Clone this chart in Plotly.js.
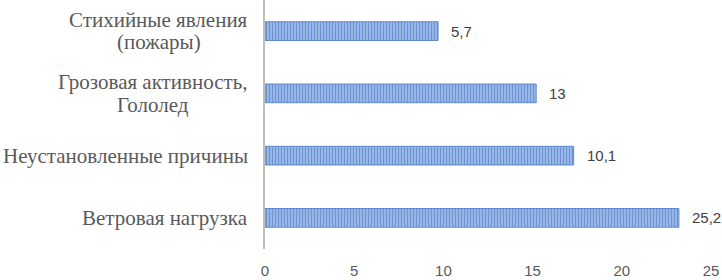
<!DOCTYPE html>
<html>
<head>
<meta charset="utf-8">
<script src="https://cdn.plot.ly/plotly-3.0.1.min.js"></script>
<style>html,body{margin:0;padding:0;background:#fff;}#chart{width:722px;height:280px;}</style>
</head>
<body>
<div id="chart"></div>
<script>
// Categories from bottom to top
const categories = [
  "Ветровая нагрузка",
  "Неустановленные причины",
  "Грозовая активность,<br>Гололед",
  "Стихийные явления<br>(пожары)"
];
// Bar lengths as drawn on the axis
const barValues = [23.2, 17.3, 15.2, 9.7];
// Data labels printed next to bars
const dataLabels = ["25,2", "10,1", "13", "5,7"];
const xTicks = [0, 5, 10, 15, 20, 25];

const LABEL_FONT = "Liberation Serif";
const LABEL_SIZE = 21;
const LINE_H = 22.5;
const RIGHT_GAP = 17;

const cvs = document.createElement("canvas");
const ctx = cvs.getContext("2d");
ctx.font = LABEL_SIZE + "px '" + LABEL_FONT + "'";

const trace = {
  type: "bar",
  orientation: "h",
  y: categories,
  x: barValues,
  width: 0.3,
  marker: {
    color: "#9bb9e8",
    line: { color: "#5b88cc", width: 1 },
    pattern: { shape: "|", fgcolor: "#3f6fbf", size: 3, solidity: 0.4, fillmode: "overlay" }
  },
  hoverinfo: "none"
};

const annotations = [];
categories.forEach((c, i) => {
  const lines = c.split("<br>");
  const widths = lines.map(l => ctx.measureText(l).width);
  const maxW = Math.max.apply(null, widths);
  lines.forEach((l, k) => {
    const yshift = ((lines.length - 1) / 2 - k) * LINE_H;
    annotations.push({
      xref: "paper", yref: "y", x: 0, y: c, text: l,
      xanchor: "center", yanchor: "middle",
      xshift: -RIGHT_GAP - maxW / 2, yshift: yshift,
      showarrow: false,
      font: { family: LABEL_FONT, size: LABEL_SIZE, color: "#595959" }
    });
  });
  annotations.push({
    xref: "x", yref: "y", x: barValues[i], y: c, text: dataLabels[i],
    xanchor: "left", yanchor: "middle", xshift: 11,
    showarrow: false,
    font: { family: "Liberation Sans", size: 15, color: "#404040" }
  });
});

const layout = {
  width: 722, height: 280,
  margin: { l: 265, r: 11, t: 0, b: 31, pad: 0 },
  paper_bgcolor: "#fff", plot_bgcolor: "#fff",
  showlegend: false,
  xaxis: {
    range: [0, 25], tickvals: xTicks, ticktext: xTicks.map(String),
    showgrid: false, zeroline: false, showline: false,
    ticks: "outside", ticklen: 8, tickcolor: "rgba(0,0,0,0)",
    tickfont: { family: "Liberation Sans", size: 15, color: "#595959" },
    fixedrange: true
  },
  yaxis: {
    categoryorder: "array", categoryarray: categories,
    range: [-0.5, 3.5],
    showticklabels: false, showgrid: false, zeroline: false,
    showline: true, linecolor: "#bfbfbf", linewidth: 2,
    fixedrange: true
  },
  annotations: annotations
};

Plotly.newPlot("chart", [trace], layout, { displayModeBar: false, staticPlot: true });
</script>
</body>
</html>
